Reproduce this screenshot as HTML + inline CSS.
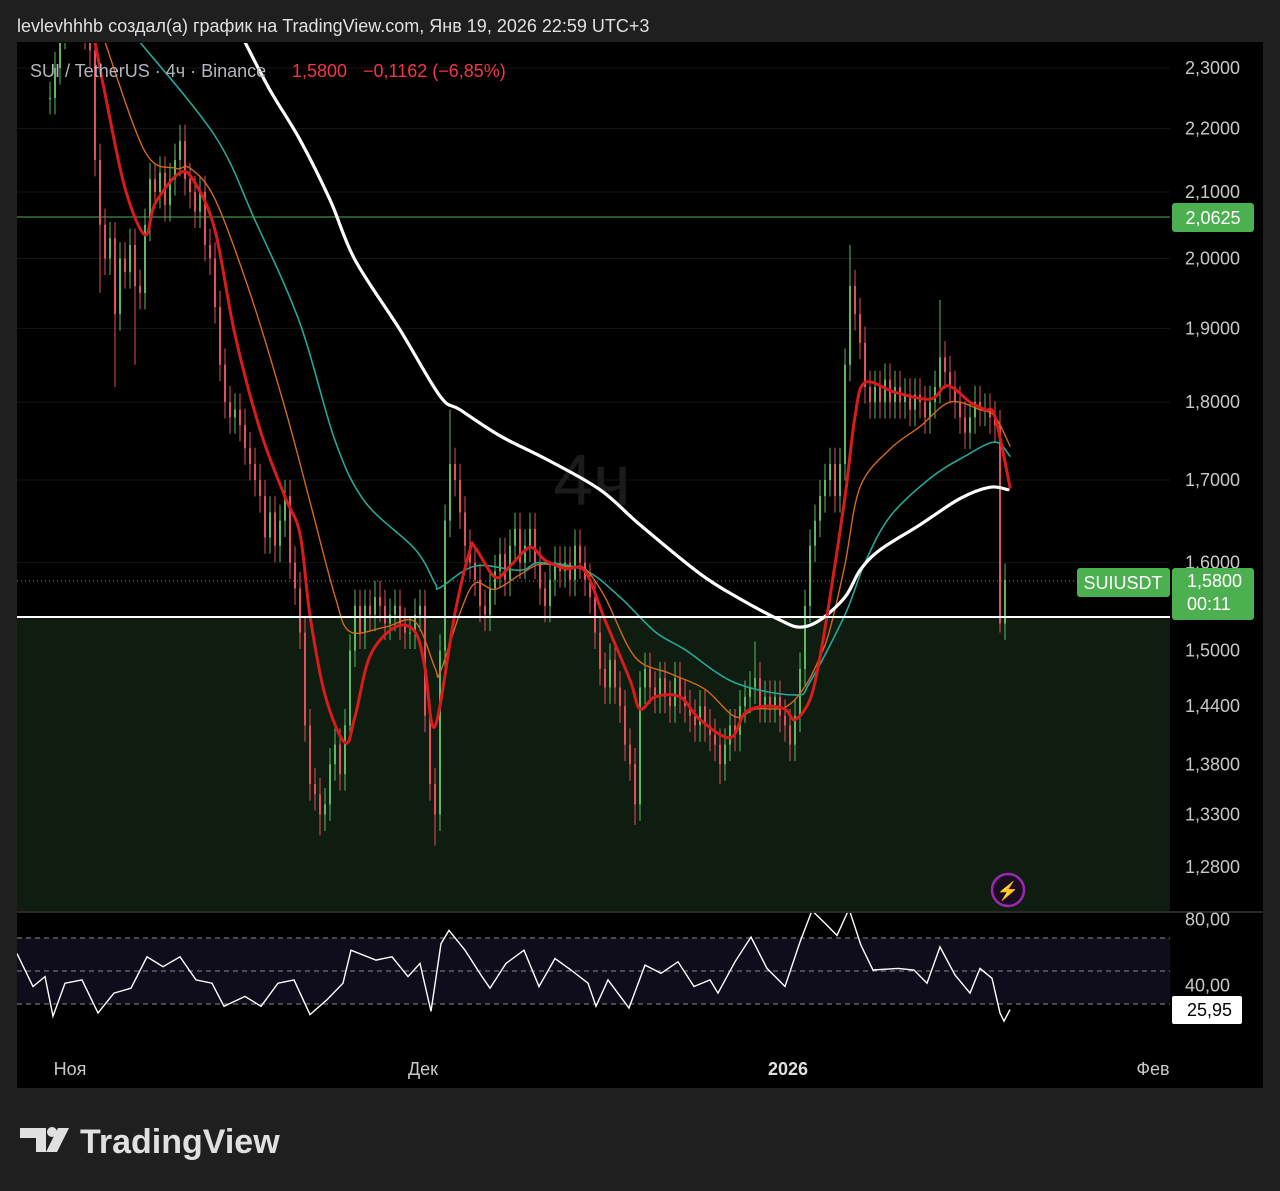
<!DOCTYPE html>
<html><head><meta charset="utf-8"><style>
html,body{margin:0;padding:0;background:#1f1f1f;}
svg{display:block;font-family:"Liberation Sans",sans-serif;}
</style></head><body>
<svg id="c" width="1280" height="1191" viewBox="0 0 1280 1191" xmlns="http://www.w3.org/2000/svg">
<defs><clipPath id="pclip"><rect x="17" y="43" width="1153" height="869"/></clipPath></defs>
<rect width="1280" height="1191" fill="#1f1f1f"/>
<text x="17" y="32" font-size="18" fill="#e0e0e0">levlevhhhb создал(а) график на TradingView.com, Янв 19, 2026 22:59 UTC+3</text>
<rect x="17" y="42" width="1246" height="1046" fill="#000"/>
<g id="grid"></g>
<rect x="17" y="617" width="1153" height="295" fill="#0f1d10"/>
<text x="592" y="505" font-size="72" fill="#1b1b1b" text-anchor="middle">4ч</text>
<line x1="17" y1="217" x2="1170" y2="217" stroke="#4caf50" stroke-width="1"/>
<line x1="17" y1="581" x2="1170" y2="581" stroke="#888" stroke-width="1" stroke-dasharray="1,3"/>
<g id="candles" clip-path="url(#pclip)"></g>
<g id="mas" clip-path="url(#pclip)"></g>
<line x1="17" y1="617" x2="1170" y2="617" stroke="#fff" stroke-width="2"/>
<text x="30" y="77" font-size="18" fill="#b2b5be">SUI / TetherUS · 4ч · Binance</text>
<text x="292" y="77" font-size="18" fill="#f23645">1,5800</text>
<text x="363" y="77" font-size="18" fill="#f23645">−0,1162 (−6,85%)</text>
<g id="axis"></g>
<rect x="1172" y="203" width="82" height="29" rx="3" fill="#4caf50"/>
<text x="1213" y="224" font-size="18" fill="#fff" text-anchor="middle">2,0625</text>
<rect x="1077" y="568" width="93" height="29" rx="3" fill="#4caf50"/>
<text x="1123" y="589" font-size="18" fill="#fff" text-anchor="middle">SUIUSDT</text>
<rect x="1172" y="568" width="82" height="52" rx="3" fill="#4caf50"/>
<text x="1187" y="587" font-size="18" fill="#fff">1,5800</text>
<text x="1187" y="610" font-size="18" fill="#fff">00:11</text>
<circle cx="1008" cy="890" r="16" fill="#1a0d20" stroke="#9c27b0" stroke-width="2.5"/>
<text x="1008" y="897" font-size="18" fill="#c45ddb" text-anchor="middle">⚡</text>
<line x1="17" y1="912" x2="1263" y2="912" stroke="#2a2a2a" stroke-width="2"/>
<g id="rsi"></g>
<g id="time"></g>
<g>
<path d="M20 1128h26v24h-10v-14h-16z" fill="#e0e0e0"/>
<circle cx="52" cy="1132" r="5" fill="#e0e0e0"/>
<path d="M58 1128h11l-12 24h-11z" fill="#e0e0e0"/>
<text x="80" y="1153" font-size="34" font-weight="bold" fill="#e0e0e0">TradingView</text>
</g>
</svg>
<script>
const closes=[2.25,2.30,2.36,2.38,2.40,2.38,2.40,2.36,2.33,2.15,2.05,2.00,2.03,1.92,2.00,1.98,2.02,1.96,1.95,2.05,2.12,2.10,2.13,2.08,2.12,2.15,2.18,2.12,2.10,2.07,2.10,2.02,2.00,1.93,1.85,1.80,1.78,1.79,1.77,1.74,1.72,1.70,1.68,1.63,1.66,1.62,1.65,1.68,1.60,1.57,1.52,1.42,1.36,1.35,1.33,1.34,1.38,1.40,1.37,1.42,1.50,1.55,1.52,1.55,1.54,1.56,1.55,1.53,1.54,1.55,1.53,1.52,1.52,1.54,1.55,1.43,1.36,1.33,1.50,1.65,1.72,1.70,1.66,1.62,1.60,1.58,1.55,1.54,1.57,1.59,1.61,1.58,1.62,1.64,1.60,1.62,1.64,1.60,1.57,1.55,1.58,1.60,1.59,1.60,1.58,1.62,1.60,1.58,1.56,1.52,1.48,1.46,1.49,1.46,1.44,1.40,1.38,1.34,1.46,1.48,1.46,1.45,1.47,1.45,1.44,1.47,1.45,1.44,1.43,1.42,1.44,1.42,1.41,1.40,1.38,1.40,1.42,1.41,1.44,1.45,1.46,1.47,1.44,1.45,1.44,1.45,1.43,1.42,1.40,1.43,1.48,1.55,1.62,1.65,1.68,1.70,1.72,1.68,1.72,1.85,1.96,1.92,1.88,1.82,1.80,1.82,1.80,1.83,1.80,1.82,1.80,1.81,1.79,1.81,1.80,1.78,1.80,1.82,1.86,1.84,1.82,1.80,1.78,1.76,1.78,1.80,1.79,1.79,1.78,1.77,1.53,1.58];
const spikeBars=[10,13,17,54,77,80,117,134,141,160,178,190];
const spikeHighs=[null,null,null,null,null,1.79,null,null,1.51,2.02,1.94,1.79];
const spikeLows=[1.95,1.82,1.85,1.31,1.30,null,1.32,1.36,null,null,null,1.52];
const priceTicks=[2.3,2.2,2.1,2.0,1.9,1.8,1.7,1.6,1.5,1.44,1.38,1.33,1.28];
const priceTickLabels=["2,3000","2,2000","2,1000","2,0000","1,9000","1,8000","1,7000","1,6000","1,5000","1,4400","1,3800","1,3300","1,2800"];
const redBars=[9,11,15,19,21,26,29,33,37,42,47,50,52,55,59,61,64,69,73,75,77,81,84,85,89,92,96,99,103,107,111,116,118,121,126,130,136,139,143,147,149,152,154,156,159,161,163,169,176,179,181,184,187,189,192];
const redVals=[2.344,2.257,2.106,2.035,2.082,2.130,2.114,2.042,1.891,1.764,1.679,1.634,1.539,1.452,1.402,1.429,1.494,1.526,1.521,1.481,1.419,1.542,1.615,1.618,1.583,1.596,1.618,1.603,1.593,1.590,1.534,1.468,1.437,1.450,1.450,1.426,1.407,1.433,1.440,1.437,1.426,1.447,1.493,1.560,1.679,1.781,1.826,1.813,1.804,1.821,1.817,1.800,1.790,1.781,1.691];
const orangeBars=[11,19,25,28,33,40,47,52,57,60,67,73,77,78,82,85,89,94,98,104,107,111,117,124,131,137,141,147,151,154,156,159,162,168,174,180,186,189,192];
const orangeVals=[2.344,2.163,2.137,2.137,2.089,1.950,1.792,1.673,1.561,1.521,1.526,1.532,1.481,1.476,1.542,1.576,1.569,1.586,1.598,1.595,1.593,1.560,1.493,1.475,1.458,1.429,1.437,1.439,1.461,1.493,1.524,1.598,1.691,1.739,1.768,1.800,1.790,1.781,1.743];
const tealBars=[18,33,41,50,57,63,73,77,78,85,94,98,107,114,121,127,137,149,152,159,163,168,176,183,189,192];
const tealVals=[2.344,2.188,2.057,1.907,1.750,1.673,1.616,1.576,1.571,1.596,1.591,1.600,1.591,1.560,1.521,1.501,1.465,1.452,1.466,1.540,1.600,1.655,1.702,1.730,1.748,1.730];
const whiteBars=[39,44,50,56,61,70,78,82,90,99,110,118,130,138,146,150,154,159,162,166,174,182,188,191.6];
const whiteVals=[2.344,2.263,2.182,2.088,1.998,1.898,1.808,1.790,1.756,1.727,1.688,1.645,1.587,1.558,1.534,1.526,1.534,1.560,1.591,1.615,1.645,1.677,1.691,1.688];
const rsiBars=[-6.8,-3.4,-1,0.6,3,6.4,9.6,12.8,16.2,19.4,22.6,26,29.2,32.4,34.8,39,42.2,45.6,48.8,52,55.4,58.6,60.2,65.2,68.4,71.6,74,76.2,78.2,79.8,83,86.4,88,91.2,94.8,97.8,101,104.2,107.6,109.2,111.6,115.8,119,122.2,125.6,128.8,132,133.6,137,140.2,143.4,147,150,152.4,154.8,157.4,159.8,162.2,164.6,169.6,172.8,175.4,178,181,184,186,188.4,190,190.8,192];
const rsiVals=[60.6,40.6,46.6,22.6,42.6,44.6,24.6,36.6,39.6,58.6,52.6,58.6,44.6,42.6,28.6,34.6,28.6,42.6,44.6,23.6,32.6,42.6,62.6,56.6,58.6,46.6,54.6,25.6,66.6,74.6,62.6,46.6,39.6,54.6,62.6,40.6,57.6,50.6,42.6,28.6,44.6,27.6,53.6,48.6,55.6,40.6,44.6,36.6,55.6,70.6,51.6,40.6,67.6,86.6,79.6,71.6,87.6,65.6,50.6,51.6,50.6,42.6,64.6,47.6,36.6,51.6,45.6,24.6,19.6,26.6];
const rsiTicks=[80,40];
const rsiTickLabels=["80,00","40,00"];
const rsiLast="25,95";
const timeBars=[4,74.6,147.6,220.6];
const timeLabels=["Ноя","Дек","2026","Фев"];

const NS="http://www.w3.org/2000/svg";
const LN23=Math.log(2.3);
function yP(p){return 68+(LN23-Math.log(p))*1363;}
function xB(i){return 50+5*i;}
function yR(v){return 1004-(v-30)*1.65;}
function mk(tag,attrs,parent){const e=document.createElementNS(NS,tag);for(const k in attrs)e.setAttribute(k,attrs[k]);parent.appendChild(e);return e;}
function smooth(pts){
  let d='M'+pts[0][0].toFixed(1)+' '+pts[0][1].toFixed(1);
  for(let i=0;i<pts.length-1;i++){
    const p0=pts[Math.max(0,i-1)],p1=pts[i],p2=pts[i+1],p3=pts[Math.min(pts.length-1,i+2)];
    const c1=[p1[0]+(p2[0]-p0[0])/6,p1[1]+(p2[1]-p0[1])/6];
    const c2=[p2[0]-(p3[0]-p1[0])/6,p2[1]-(p3[1]-p1[1])/6];
    d+=' C'+c1[0].toFixed(1)+' '+c1[1].toFixed(1)+' '+c2[0].toFixed(1)+' '+c2[1].toFixed(1)+' '+p2[0].toFixed(1)+' '+p2[1].toFixed(1);
  }
  return d;
}

const grid=document.getElementById('grid'),axis=document.getElementById('axis');
priceTicks.forEach((p,k)=>{
  const y=yP(p);
  const g=mk('line',{x1:17,x2:1170,y1:y,y2:y,stroke:'#161616','stroke-width':1},grid);
  
  
  const t=mk('text',{x:1185,y:y+6,'font-size':18,fill:'#c8c8c8'},axis);
  t.textContent=priceTickLabels[k];
  
  
});

const cg=document.getElementById('candles');
closes.forEach((c,i)=>{
  const o=i>0?closes[i-1]:c;
  let hi=Math.max(o,c)*1.012,lo=Math.min(o,c)*0.988;
  const s=spikeBars.indexOf(i);
  if(s>=0){if(spikeHighs[s]!==null)hi=spikeHighs[s];if(spikeLows[s]!==null)lo=spikeLows[s];}
  const col=c>=o?'#5db861':'#e0505e';
  const x=xB(i);
  const w=mk('line',{x1:x,x2:x,y1:yP(hi),y2:yP(lo),stroke:col,'stroke-width':1},cg);
  
  
  const yt=yP(Math.max(o,c)),yb=yP(Math.min(o,c));
  const b=mk('rect',{x:x-1,y:yt,width:2,height:Math.max(1,yb-yt),fill:col},cg);
  
  
});

const mg=document.getElementById('mas');
function line(bars,vals,col,w,name){
  const pts=bars.map((b,k)=>[xB(b),yP(vals[k])]);
  const p=mk('path',{d:smooth(pts),fill:'none',stroke:col,'stroke-width':w,'stroke-linejoin':'round','stroke-linecap':'round'},mg);
  
  
}
line(tealBars,tealVals,'#26a69a',1.6,'ma-teal');
line(orangeBars,orangeVals,'#d2691e',1.4,'ma-orange');
line(whiteBars,whiteVals,'#ffffff',3.2,'ma-white');
line(redBars,redVals,'#d81b1b',3,'ma-red');

const rg=document.getElementById('rsi');
const band=mk('rect',{x:17,y:yR(70),width:1153,height:yR(30)-yR(70),fill:'#0f0c1c'},rg);


[70,50,30].forEach(v=>{
  const l=mk('line',{x1:17,x2:1170,y1:yR(v),y2:yR(v),stroke:'#8a8a8a','stroke-width':1,'stroke-dasharray':'5,4'},rg);
  
  
});
const cp=mk('clipPath',{id:'rclip'},rg);
mk('rect',{x:17,y:913,width:1153,height:175},cp);
const rd=rsiBars.map((b,k)=>(k?'L':'M')+Math.max(17,xB(b)).toFixed(1)+' '+yR(rsiVals[k]).toFixed(1)).join(' ');
const rl=mk('path',{d:rd,fill:'none',stroke:'#fff','stroke-width':1.4,'clip-path':'url(#rclip)'},rg);


rsiTicks.forEach((v,k)=>{
  const t=mk('text',{x:1185,y:yR(v)+4,'font-size':18,fill:'#c8c8c8'},rg);
  t.textContent=rsiTickLabels[k];
  
  
});
const lb=mk('rect',{x:1172,y:996,width:70,height:28,rx:2,fill:'#fff'},rg);


const lt=mk('text',{x:1187,y:1016,'font-size':18,fill:'#000'},rg);
lt.textContent=rsiLast;



const tg=document.getElementById('time');
timeBars.forEach((b,k)=>{
  const t=mk('text',{x:xB(b),y:1075,'font-size':18,fill:'#c8c8c8','text-anchor':'middle'},tg);
  if(timeLabels[k]==='2026'){t.setAttribute('font-weight','bold');t.setAttribute('fill','#e0e0e0');}
  t.textContent=timeLabels[k];
  
  
});
</script>
</body></html>
